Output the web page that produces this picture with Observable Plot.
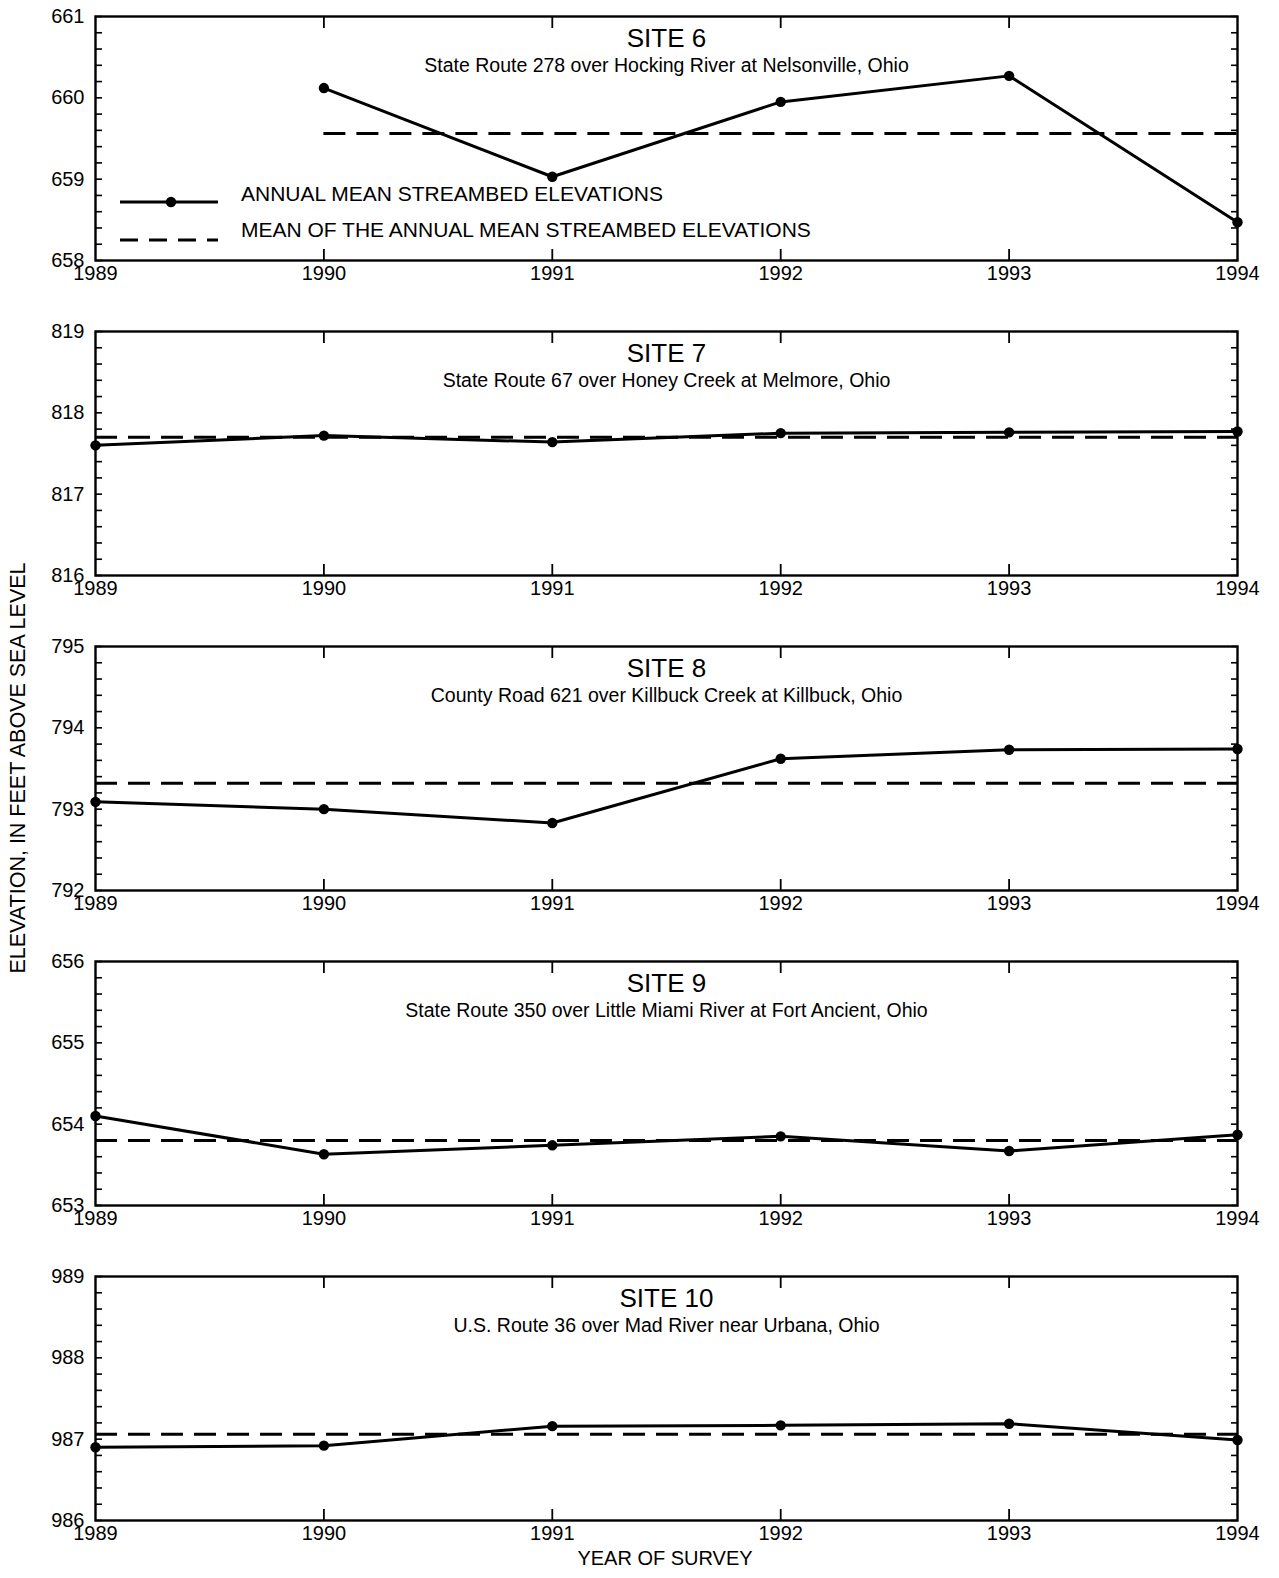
<!DOCTYPE html>
<html><head><meta charset="utf-8">
<script src="https://cdn.jsdelivr.net/npm/d3@7"></script>
<script src="https://cdn.jsdelivr.net/npm/@observablehq/plot@0.6"></script>
<style>
body{margin:0;background:#fff;}
#wrap{position:relative;width:1279px;height:1578px;font-family:"Liberation Sans",Arial,Helvetica,sans-serif;color:#000;overflow:hidden;}
.panel{position:absolute;left:0;}
.panel svg{overflow:visible;}
#ylab{position:absolute;left:18px;top:768px;transform:translate(-50%,-50%) rotate(-90deg);white-space:nowrap;font-size:21.5px;}
#xlab{position:absolute;left:665px;top:1558px;transform:translate(-50%,-50%);white-space:nowrap;font-size:20px;}
#legend{position:absolute;left:0;top:0;}
</style></head><body><div id="wrap"></div><script>
// ---- data ----
const years = [1989, 1990, 1991, 1992, 1993, 1994];
const siteNames = ["SITE 6", "SITE 7", "SITE 8", "SITE 9", "SITE 10"];
const siteDescriptions = [
  "State Route 278 over Hocking River at Nelsonville, Ohio",
  "State Route 67 over Honey Creek at Melmore, Ohio",
  "County Road 621 over Killbuck Creek at Killbuck, Ohio",
  "State Route 350 over Little Miami River at Fort Ancient, Ohio",
  "U.S. Route 36 over Mad River near Urbana, Ohio"
];
const yDomains = [[658, 661], [816, 819], [792, 795], [653, 656], [986, 989]];
const site6Elevations  = [null, 660.12, 659.03, 659.95, 660.27, 658.47];
const site7Elevations  = [817.60, 817.72, 817.64, 817.75, 817.76, 817.77];
const site8Elevations  = [793.09, 793.00, 792.83, 793.62, 793.73, 793.74];
const site9Elevations  = [654.10, 653.63, 653.74, 653.85, 653.67, 653.87];
const site10Elevations = [986.90, 986.92, 987.16, 987.17, 987.19, 986.99];
const meanElevations = [659.56, 817.70, 793.32, 653.80, 987.06];
const meanStartYears = [1990, 1989, 1989, 1989, 1989];
const legendLabels = ["ANNUAL MEAN STREAMBED ELEVATIONS", "MEAN OF THE ANNUAL MEAN STREAMBED ELEVATIONS"];
const xTitle = "YEAR OF SURVEY";
const yTitle = "ELEVATION, IN FEET ABOVE SEA LEVEL";

const series = [site6Elevations, site7Elevations, site8Elevations, site9Elevations, site10Elevations];
const font = '"Liberation Sans", Arial, Helvetica, sans-serif';
const wrap = document.getElementById("wrap");

const FRAME_TOP0 = 16, PANEL_STEP = 315, FRAME_H = 244, MT = 16, MB = 50;
const innerYears = years.slice(1, -1);

series.forEach((vals, i) => {
  const data = years.map((year, j) => ({year, value: vals[j]})).filter(d => d.value != null);
  const [lo, hi] = yDomains[i];
  const major = d3.range(lo, hi + 1);
  const minor = d3.range(0, Math.round((hi - lo) / 0.2) + 1).map(k => lo + k * 0.2);
  const plot = Plot.plot({
    width: 1279,
    height: MT + FRAME_H + MB,
    marginLeft: 95,
    marginRight: 42,
    marginTop: MT,
    marginBottom: MB,
    x: {domain: [1989, 1994], label: null},
    y: {domain: yDomains[i], label: null},
    style: {fontFamily: font, fontSize: "20px", color: "#000", background: "transparent", overflow: "visible"},
    marks: [
      Plot.axisY(major, {anchor: "left", tickSize: 0, tickPadding: 11, tickFormat: d => String(d), label: null, fontSize: 20}),
      Plot.axisY(minor, {anchor: "left", tickSize: 7, dx: 7, text: null, label: null, strokeWidth: 1.6}),
      Plot.axisY(minor, {anchor: "right", tickSize: 7, dx: -7, text: null, label: null, strokeWidth: 1.6}),
      Plot.axisX(years, {anchor: "bottom", tickSize: 0, tickPadding: 5, tickFormat: d => String(d), label: null, fontSize: 20}),
      Plot.axisX(innerYears, {anchor: "bottom", tickSize: 11, dy: -11, text: null, label: null, strokeWidth: 1.8}),
      Plot.axisX(innerYears, {anchor: "top", tickSize: 11, dy: 11, text: null, label: null, strokeWidth: 1.8}),
      Plot.frame({stroke: "#000", strokeWidth: 2.4}),
      Plot.ruleY([meanElevations[i]], {x1: meanStartYears[i], x2: 1994, stroke: "#000", strokeWidth: 3, strokeDasharray: "22,11"}),
      Plot.line(data, {x: "year", y: "value", stroke: "#000", strokeWidth: 3}),
      Plot.dot(data, {x: "year", y: "value", r: 5.2, fill: "#000", stroke: "none"}),
      Plot.text([siteNames[i]], {frameAnchor: "top", lineAnchor: "middle", dy: 22, fontSize: 26, fill: "#000"}),
      Plot.text([siteDescriptions[i]], {frameAnchor: "top", lineAnchor: "middle", dy: 49, fontSize: 19.5, fill: "#000"})
    ]
  });
  const div = document.createElement("div");
  div.className = "panel";
  div.style.top = (FRAME_TOP0 + PANEL_STEP * i - MT) + "px";
  div.appendChild(plot);
  wrap.appendChild(div);
});

// legend (inside first panel)
const ns = "http://www.w3.org/2000/svg";
const leg = document.createElementNS(ns, "svg");
leg.setAttribute("id", "legend");
leg.setAttribute("width", 900);
leg.setAttribute("height", 260);
leg.innerHTML = `
  <line x1="120" x2="218" y1="202" y2="202" stroke="#000" stroke-width="3"/>
  <circle cx="171" cy="202" r="5.2" fill="#000"/>
  <line x1="120" x2="218" y1="240" y2="240" stroke="#000" stroke-width="3" stroke-dasharray="18,11"/>
  <text x="241" y="195" dominant-baseline="middle" font-family='${font}' font-size="21">${legendLabels[0]}</text>
  <text x="241" y="231" dominant-baseline="middle" font-family='${font}' font-size="21">${legendLabels[1]}</text>`;
wrap.appendChild(leg);

const yl = document.createElement("div"); yl.id = "ylab"; yl.textContent = yTitle; wrap.appendChild(yl);
const xl = document.createElement("div"); xl.id = "xlab"; xl.textContent = xTitle; wrap.appendChild(xl);
</script></body></html>
